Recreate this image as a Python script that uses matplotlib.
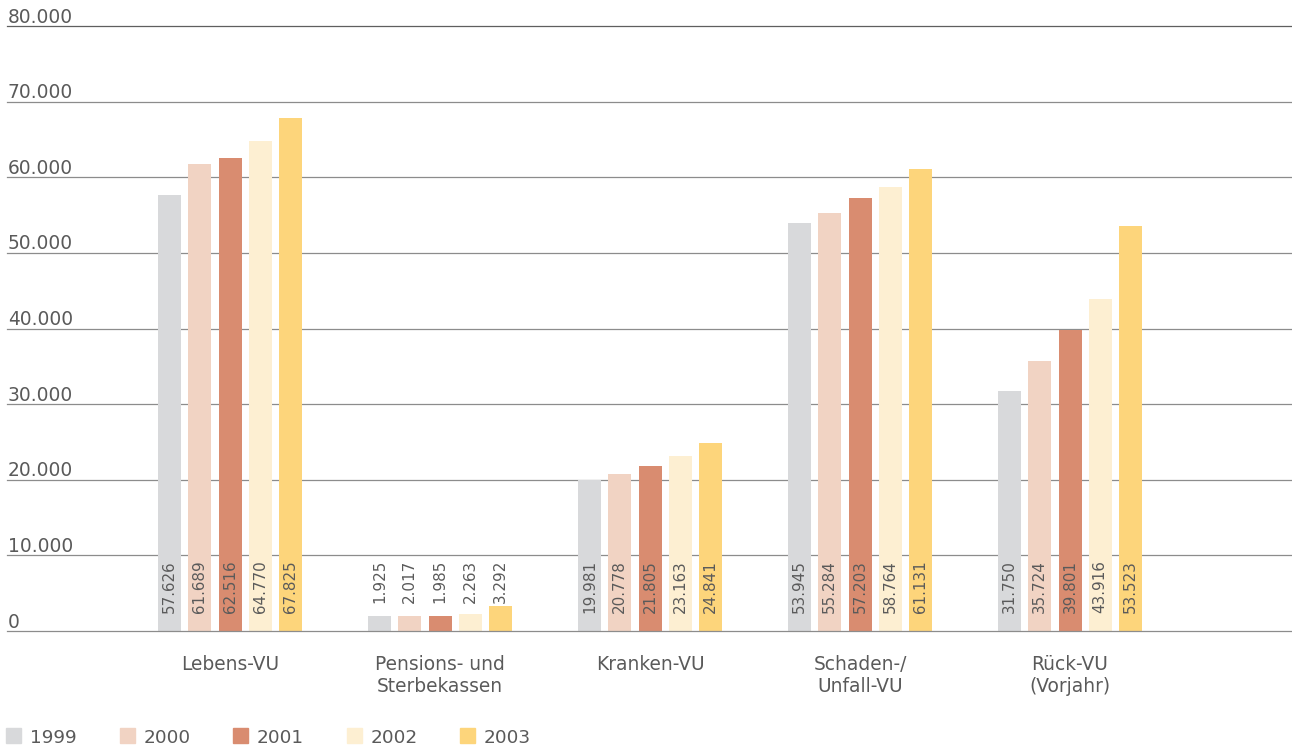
import numpy as np
import matplotlib
matplotlib.use("Agg")
from matplotlib import pyplot as plt
from matplotlib.patches import Rectangle
from matplotlib.transforms import blended_transform_factory

categories = ["Lebens-VU", "Pensions- und\nSterbekassen", "Kranken-VU",
              "Schaden-/\nUnfall-VU", "Rück-VU\n(Vorjahr)"]
years = ["1999", "2000", "2001", "2002", "2003"]
values = {
    "1999": [57626, 1925, 19981, 53945, 31750],
    "2000": [61689, 2017, 20778, 55284, 35724],
    "2001": [62516, 1985, 21805, 57203, 39801],
    "2002": [64770, 2263, 23163, 58764, 43916],
    "2003": [67825, 3292, 24841, 61131, 53523],
}
colors = ["#d8d9db", "#f1d3c3", "#d98c70", "#fdefd2", "#fdd57b"]
yticks = [0, 10000, 20000, 30000, 40000, 50000, 60000, 70000, 80000]

text_col = "#5a5a5a"
plt.rcParams['font.family'] = ['DejaVu Sans']

fig = plt.figure(figsize=(12.92, 7.49), dpi=100)
W, H = 1292, 749
ax = fig.add_axes([7 / W, (H - 631) / H, (W - 7) / W, (631 - 26) / H])

x = np.arange(len(categories))
step = 30.2 / 210
width = 23 / 210
for i, yr in enumerate(years):
    pos = x + (i - 2) * step
    ax.bar(pos, values[yr], width=width, color=colors[i], zorder=2)
    for px, v in zip(pos, values[yr]):
        lbl = f"{v:,}".replace(",", ".")
        ax.text(px, 9400, lbl, rotation=90, ha="center", va="top",
                fontsize=10.9, color=text_col, zorder=4)

ax.set_xlim((7 - 230) / 210, (1292 - 230) / 210)
ax.set_ylim(0, 80000)

# horizontal grid lines and labels
tr = blended_transform_factory(ax.transAxes, ax.transData)
for t in yticks:
    col = "#5f5f5f" if t == 80000 else "#8c8c8c"
    ax.axhline(t, color=col, lw=0.9, zorder=3 if t == 0 else 1, clip_on=False)
    lbl = f"{t:,}".replace(",", ".")
    ax.annotate(lbl, xy=(0.0, t), xycoords=tr, xytext=(0.5, 2.5),
                textcoords="offset points", ha="left", va="baseline",
                fontsize=13.4, color=text_col)

for s in ax.spines.values():
    s.set_visible(False)
ax.set_yticks([])
ax.set_xticks(x)
ax.set_xticklabels(categories, fontsize=13.4, color=text_col, linespacing=1.15)
ax.tick_params(axis="x", length=0, pad=17.5)

# legend row
for i, yr in enumerate(years):
    x0 = 6 + i * 113.5
    fig.patches.append(Rectangle((x0 / W, (H - 743) / H), 15 / W, 15 / H,
                                 transform=fig.transFigure, color=colors[i]))
    fig.text((x0 + 24) / W, (H - 743) / H, yr, fontsize=13.3, color=text_col,
             ha="left", va="baseline")

fig.savefig("out.png", dpi=100)
